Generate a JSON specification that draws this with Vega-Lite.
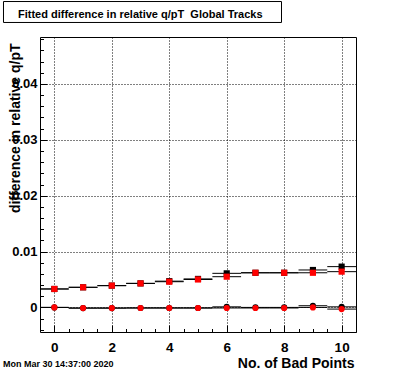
{
  "$schema": "https://vega.github.io/schema/vega-lite/v6.json",
  "width": 316,
  "height": 295,
  "autosize": {"type": "none"},
  "padding": {"left": 40, "top": 37, "right": 40, "bottom": 40},
  "background": "white",
  "config": {"view": {"stroke": "black", "strokeWidth": 1}},
  "title": {
    "text": "Fitted difference in relative q/pT\u00a0 Global Tracks",
    "anchor": "start", "frame": "group", "dx": -22, "baseline": "alphabetic", "offset": -28.4,
    "font": "Liberation Sans", "fontSize": 11, "fontWeight": "bold", "color": "black"
  },
  "datasets": {
    "points": [
      {"series": "A", "stat": "sigma", "bin": 0, "lo": -0.5, "hi": 0.5, "value": 0.0033},
      {"series": "A", "stat": "sigma", "bin": 1, "lo": 0.5, "hi": 1.5, "value": 0.0036},
      {"series": "A", "stat": "sigma", "bin": 2, "lo": 1.5, "hi": 2.5, "value": 0.0039},
      {"series": "A", "stat": "sigma", "bin": 3, "lo": 2.5, "hi": 3.5, "value": 0.0043},
      {"series": "A", "stat": "sigma", "bin": 4, "lo": 3.5, "hi": 4.5, "value": 0.0047},
      {"series": "A", "stat": "sigma", "bin": 5, "lo": 4.5, "hi": 5.5, "value": 0.0051},
      {"series": "A", "stat": "sigma", "bin": 6, "lo": 5.5, "hi": 6.5, "value": 0.0061},
      {"series": "A", "stat": "sigma", "bin": 7, "lo": 6.5, "hi": 7.5, "value": 0.0062},
      {"series": "A", "stat": "sigma", "bin": 8, "lo": 7.5, "hi": 8.5, "value": 0.0062},
      {"series": "A", "stat": "sigma", "bin": 9, "lo": 8.5, "hi": 9.5, "value": 0.0067},
      {"series": "A", "stat": "sigma", "bin": 10, "lo": 9.5, "hi": 10.5, "value": 0.0073},
      {"series": "A", "stat": "mean", "bin": 0, "lo": -0.5, "hi": 0.5, "value": 0.0},
      {"series": "A", "stat": "mean", "bin": 1, "lo": 0.5, "hi": 1.5, "value": -0.00012},
      {"series": "A", "stat": "mean", "bin": 2, "lo": 1.5, "hi": 2.5, "value": -0.00012},
      {"series": "A", "stat": "mean", "bin": 3, "lo": 2.5, "hi": 3.5, "value": -0.0001},
      {"series": "A", "stat": "mean", "bin": 4, "lo": 3.5, "hi": 4.5, "value": -0.0001},
      {"series": "A", "stat": "mean", "bin": 5, "lo": 4.5, "hi": 5.5, "value": -0.0001},
      {"series": "A", "stat": "mean", "bin": 6, "lo": 5.5, "hi": 6.5, "value": 0.0001},
      {"series": "A", "stat": "mean", "bin": 7, "lo": 6.5, "hi": 7.5, "value": 0.0},
      {"series": "A", "stat": "mean", "bin": 8, "lo": 7.5, "hi": 8.5, "value": 0.0},
      {"series": "A", "stat": "mean", "bin": 9, "lo": 8.5, "hi": 9.5, "value": 0.0003},
      {"series": "A", "stat": "mean", "bin": 10, "lo": 9.5, "hi": 10.5, "value": 0.0001},
      {"series": "B", "stat": "sigma", "bin": 0, "lo": -0.5, "hi": 0.5, "value": 0.0033},
      {"series": "B", "stat": "sigma", "bin": 1, "lo": 0.5, "hi": 1.5, "value": 0.0036},
      {"series": "B", "stat": "sigma", "bin": 2, "lo": 1.5, "hi": 2.5, "value": 0.0039},
      {"series": "B", "stat": "sigma", "bin": 3, "lo": 2.5, "hi": 3.5, "value": 0.0043},
      {"series": "B", "stat": "sigma", "bin": 4, "lo": 3.5, "hi": 4.5, "value": 0.0046},
      {"series": "B", "stat": "sigma", "bin": 5, "lo": 4.5, "hi": 5.5, "value": 0.0050},
      {"series": "B", "stat": "sigma", "bin": 6, "lo": 5.5, "hi": 6.5, "value": 0.0055},
      {"series": "B", "stat": "sigma", "bin": 7, "lo": 6.5, "hi": 7.5, "value": 0.0062},
      {"series": "B", "stat": "sigma", "bin": 8, "lo": 7.5, "hi": 8.5, "value": 0.0062},
      {"series": "B", "stat": "sigma", "bin": 9, "lo": 8.5, "hi": 9.5, "value": 0.0062},
      {"series": "B", "stat": "sigma", "bin": 10, "lo": 9.5, "hi": 10.5, "value": 0.0064},
      {"series": "B", "stat": "mean", "bin": 0, "lo": -0.5, "hi": 0.5, "value": 0.0},
      {"series": "B", "stat": "mean", "bin": 1, "lo": 0.5, "hi": 1.5, "value": -0.00012},
      {"series": "B", "stat": "mean", "bin": 2, "lo": 1.5, "hi": 2.5, "value": -0.00012},
      {"series": "B", "stat": "mean", "bin": 3, "lo": 2.5, "hi": 3.5, "value": -0.0001},
      {"series": "B", "stat": "mean", "bin": 4, "lo": 3.5, "hi": 4.5, "value": -0.0001},
      {"series": "B", "stat": "mean", "bin": 5, "lo": 4.5, "hi": 5.5, "value": -0.0001},
      {"series": "B", "stat": "mean", "bin": 6, "lo": 5.5, "hi": 6.5, "value": -0.0001},
      {"series": "B", "stat": "mean", "bin": 7, "lo": 6.5, "hi": 7.5, "value": -0.0001},
      {"series": "B", "stat": "mean", "bin": 8, "lo": 7.5, "hi": 8.5, "value": -0.0001},
      {"series": "B", "stat": "mean", "bin": 9, "lo": 8.5, "hi": 9.5, "value": 0.0},
      {"series": "B", "stat": "mean", "bin": 10, "lo": 9.5, "hi": 10.5, "value": -0.0003}
    ]
  },
  "layer": [
    {
      "data": {"name": "points"},
      "mark": {"type": "rule", "color": "black", "strokeWidth": 1},
      "encoding": {
        "x": {
          "field": "lo", "type": "quantitative",
          "scale": {"domain": [-0.5, 10.5], "nice": false, "zero": false},
          "axis": {
            "values": [0, 0.5, 1, 1.5, 2, 2.5, 3, 3.5, 4, 4.5, 5, 5.5, 6, 6.5, 7, 7.5, 8, 8.5, 9, 9.5, 10, 10.5],
            "tickCount": 100,
            "title": "No. of Bad Points",
            "titleFont": "Liberation Sans", "titleFontSize": 14, "titleFontWeight": "bold", "titleColor": "black",
            "titleAnchor": "end", "titleAlign": "right", "titleX": 314, "titleY": 35, "titleBaseline": "alphabetic",
            "labelExpr": "datum.value % 2 === 0 ? format(datum.value, 'd') : ''",
            "labelFont": "Liberation Sans", "labelFontSize": 13.5, "labelFontWeight": "bold", "labelColor": "black",
            "labelPadding": 15, "labelFlush": false, "labelOverlap": false,
            "tickColor": "black",
            "tickSize": {"condition": {"test": "datum.value % 2 === 0", "value": -7}, "value": -3.5},
            "grid": true, "gridColor": "black", "gridDash": [1, 2],
            "gridOpacity": {"condition": {"test": "datum.value % 2 === 0", "value": 1}, "value": 0},
            "domain": false
          }
        },
        "x2": {"field": "hi"},
        "y": {
          "field": "value", "type": "quantitative",
          "scale": {"domain": [-0.0044, 0.0484], "nice": false, "zero": false},
          "axis": {
            "values": [-0.004, -0.002, 0, 0.002, 0.004, 0.006, 0.008, 0.01, 0.012, 0.014, 0.016, 0.018, 0.02, 0.022, 0.024, 0.026, 0.028, 0.03, 0.032, 0.034, 0.036, 0.038, 0.04, 0.042, 0.044, 0.046, 0.048],
            "tickCount": 100,
            "title": "difference in relative q/pT",
            "titleFont": "Liberation Sans", "titleFontSize": 14, "titleFontWeight": "bold", "titleColor": "black",
            "titleAngle": -90, "titleAlign": "right", "titleBaseline": "bottom", "titleX": -18, "titleY": 6,
            "labelExpr": "indexof([0, 0.01, 0.02, 0.03, 0.04], datum.value) >= 0 ? format(datum.value, '~g') : ''",
            "labelFont": "Liberation Sans", "labelFontSize": 13, "labelFontWeight": "bold", "labelColor": "black",
            "labelPadding": 10, "labelFlush": false, "labelOverlap": false,
            "tickColor": "black",
            "tickSize": {"condition": {"test": "indexof([0, 0.01, 0.02, 0.03, 0.04], datum.value) >= 0", "value": -7}, "value": -3.5},
            "grid": true, "gridColor": "black", "gridDash": [1, 2],
            "gridOpacity": {"condition": {"test": "indexof([0, 0.01, 0.02, 0.03, 0.04], datum.value) >= 0", "value": 1}, "value": 0},
            "domain": false
          }
        }
      }
    },
    {
      "data": {"name": "points"},
      "mark": {"type": "point", "filled": true, "opacity": 1, "size": 38},
      "encoding": {
        "x": {"field": "bin", "type": "quantitative"},
        "y": {"field": "value", "type": "quantitative"},
        "color": {"field": "series", "type": "nominal", "scale": {"domain": ["A", "B"], "range": ["#000000", "#ff0000"]}, "legend": null},
        "shape": {"field": "stat", "type": "nominal", "scale": {"domain": ["mean", "sigma"], "range": ["circle", "square"]}, "legend": null}
      }
    },
    {
      "data": {"values": [{"box": "title"}]},
      "mark": {"type": "rect", "fill": "transparent", "stroke": "black", "strokeWidth": 1},
      "encoding": {
        "x": {"datum": -1.7706, "type": "quantitative"},
        "x2": {"datum": 7.9067},
        "y": {"datum": 0.05475, "type": "quantitative"},
        "y2": {"datum": 0.05100}
      }
    },
    {
      "data": {"values": [{"label": "Mon Mar 30 14:37:00 2020"}]},
      "mark": {"type": "text", "align": "left", "baseline": "alphabetic", "font": "Liberation Sans", "fontSize": 9, "fontWeight": "bold", "color": "black"},
      "encoding": {
        "text": {"field": "label"},
        "x": {"datum": -1.788, "type": "quantitative"},
        "y": {"datum": -0.01067, "type": "quantitative"}
      }
    }
  ]
}
